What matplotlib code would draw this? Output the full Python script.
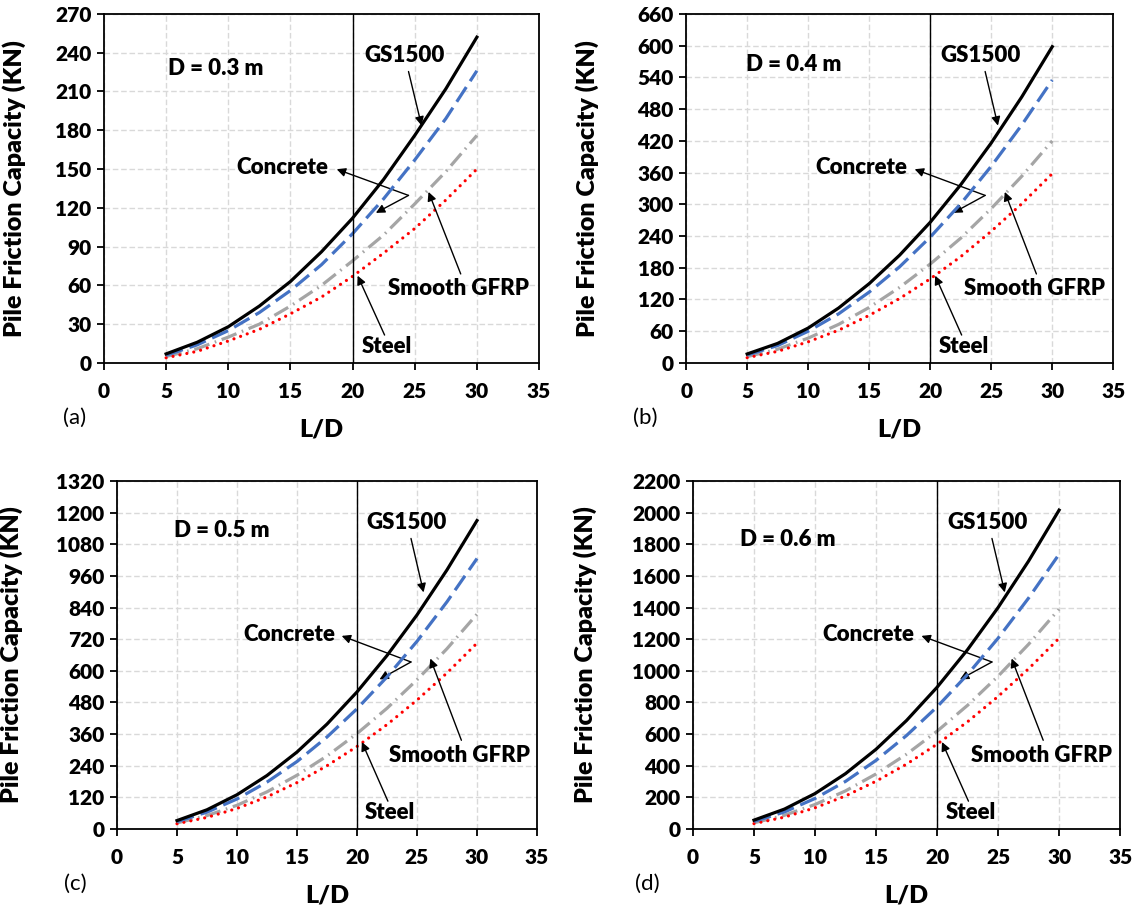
import matplotlib
matplotlib.use('Agg')
import matplotlib.pyplot as plt

plt.rcParams['font.family'] = ['Lato', 'DejaVu Sans']
plt.rcParams['font.weight'] = 'bold'

# L/D values
ld = [5, 7.5, 10, 12.5, 15, 17.5, 20, 22.5, 25, 27.5, 30]

# (a) D = 0.3 m
gs1500_a = [7, 16, 28, 44, 63, 86, 112, 142, 176, 212, 252]
concrete_a = [6, 14, 25, 39, 56, 76, 100, 127, 157, 189, 226]
gfrp_a = [5, 11, 20, 30, 44, 60, 79, 99, 123, 148, 176]
steel_a = [4, 9, 17, 26, 38, 51, 67, 85, 104, 126, 150]

# (b) D = 0.4 m
gs1500_b = [17, 37, 66, 104, 150, 204, 266, 337, 416, 503, 598]
concrete_b = [15, 33, 60, 93, 134, 182, 238, 301, 372, 450, 535]
gfrp_b = [12, 26, 47, 73, 105, 143, 187, 236, 292, 353, 420]
steel_b = [10, 22, 40, 62, 90, 122, 159, 201, 249, 301, 358]

# (c) D = 0.5 m
gs1500_c = [32, 73, 130, 203, 292, 398, 520, 658, 812, 983, 1170]
concrete_c = [28, 64, 114, 178, 256, 349, 456, 577, 712, 862, 1026]
gfrp_c = [23, 51, 90, 141, 204, 277, 362, 458, 566, 684, 815]
steel_c = [20, 44, 78, 122, 176, 240, 313, 396, 489, 592, 705]

# (d) D = 0.6 m
gs1500_d = [56, 126, 224, 350, 504, 686, 896, 1134, 1400, 1694, 2016]
concrete_d = [48, 108, 193, 301, 434, 591, 772, 977, 1206, 1460, 1737]
gfrp_d = [39, 87, 155, 241, 348, 473, 618, 782, 966, 1168, 1390]
steel_d = [34, 75, 134, 209, 302, 410, 536, 678, 838, 1013, 1206]

panel_tags = ['(a)', '(b)', '(c)', '(d)']
diameters = ['D = 0.3 m', 'D = 0.4 m', 'D = 0.5 m', 'D = 0.6 m']
y_max = [270, 660, 1320, 2200]
y_step = [30, 60, 120, 200]

panels = [
    (gs1500_a, concrete_a, gfrp_a, steel_a),
    (gs1500_b, concrete_b, gfrp_b, steel_b),
    (gs1500_c, concrete_c, gfrp_c, steel_c),
    (gs1500_d, concrete_d, gfrp_d, steel_d),
]

boxes = [
    [0.0915, 0.6007, 0.383, 0.384],
    [0.604, 0.6007, 0.376, 0.384],
    [0.103, 0.088, 0.3697, 0.3828],
    [0.61, 0.088, 0.376, 0.3828],
]
ylabel_x = [-0.18, -0.205, -0.225, -0.225]
tag_x = [-0.067, -0.096, -0.1, -0.108]
d_pos = [(0.148, 0.845), (0.141, 0.854), (0.135, 0.857), (0.11, 0.833)]

HEAVY = dict(fontweight='heavy')
ARROW = dict(arrowstyle='-|>', color='black', lw=1.0, mutation_scale=13,
             shrinkA=0, shrinkB=0)


def arrow(ax, start, tip):
    ax.annotate('', xy=tip, xytext=start, xycoords='axes fraction',
                textcoords='axes fraction', arrowprops=ARROW)


def label(ax, x, y, s, ha='center'):
    ax.text(x, y, s, transform=ax.transAxes, fontsize=16, ha=ha,
            va='center', zorder=7, **HEAVY)


def draw_panel(ax, i):
    gs, conc, gfrp, steel = panels[i]

    ax.plot(ld, gs, color='black', lw=2.3, zorder=5)
    ax.plot(ld, conc, color='#4472C4', lw=2.3, linestyle=(0, (5.5, 2.2)), zorder=4)
    ax.plot(ld, gfrp, color='#A5A5A5', lw=2.3,
            linestyle=(0, (5.0, 1.8, 0.5, 1.8)), zorder=3)
    ax.plot(ld, steel, color='#FF0000', lw=2.3, linestyle=(0, (0.01, 2.2)),
            dash_capstyle='round', zorder=3)

    ax.axvline(20, color='black', lw=1.0, zorder=6)

    ax.set_xlim(0, 35)
    ax.set_ylim(0, y_max[i])
    ax.set_xticks(range(0, 36, 5))
    ax.set_yticks(range(0, y_max[i] + 1, y_step[i]))
    ax.grid(True, color='#D9D9D9', linestyle=(0, (4, 2)), lw=1.0)
    ax.set_axisbelow(True)

    for s in ax.spines.values():
        s.set_linewidth(1.3)
        s.set_color('black')
    ax.tick_params(direction='out', length=5, width=1.3, labelsize=15)
    ax.tick_params(axis='x', pad=9)
    ax.tick_params(axis='y', pad=4)
    for lab in ax.get_xticklabels() + ax.get_yticklabels():
        lab.set_fontweight('heavy')

    ax.set_ylabel('Pile Friction Capacity (KN)', fontsize=18, **HEAVY)
    ax.yaxis.set_label_coords(ylabel_x[i], 0.5)
    ax.set_xlabel('L/D', fontsize=18, **HEAVY)
    ax.xaxis.set_label_coords(0.5, -0.19)
    ax.xaxis.label.set_va('center')

    ax.text(tag_x[i], -0.158, panel_tags[i], transform=ax.transAxes,
            fontsize=16, fontweight='normal', ha='center', va='center')
    label(ax, d_pos[i][0], d_pos[i][1], diameters[i], ha='left')

    # curve labels + arrows
    label(ax, 0.69, 0.88, 'GS1500')
    arrow(ax, (0.70, 0.835), (0.73, 0.68))

    label(ax, 0.41, 0.56, 'Concrete')
    arrow(ax, (0.70, 0.48), (0.535, 0.555))
    arrow(ax, (0.70, 0.48), (0.625, 0.43))

    label(ax, 0.815, 0.212, 'Smooth GFRP')
    arrow(ax, (0.82, 0.255), (0.746, 0.49))

    label(ax, 0.65, 0.048, 'Steel')
    arrow(ax, (0.645, 0.08), (0.583, 0.25))


fig = plt.figure(figsize=(11.36, 9.09), dpi=100)
for i, box in enumerate(boxes):
    ax = fig.add_axes(box)
    draw_panel(ax, i)

fig.savefig('out.png', dpi=100)
plt.close(fig)
